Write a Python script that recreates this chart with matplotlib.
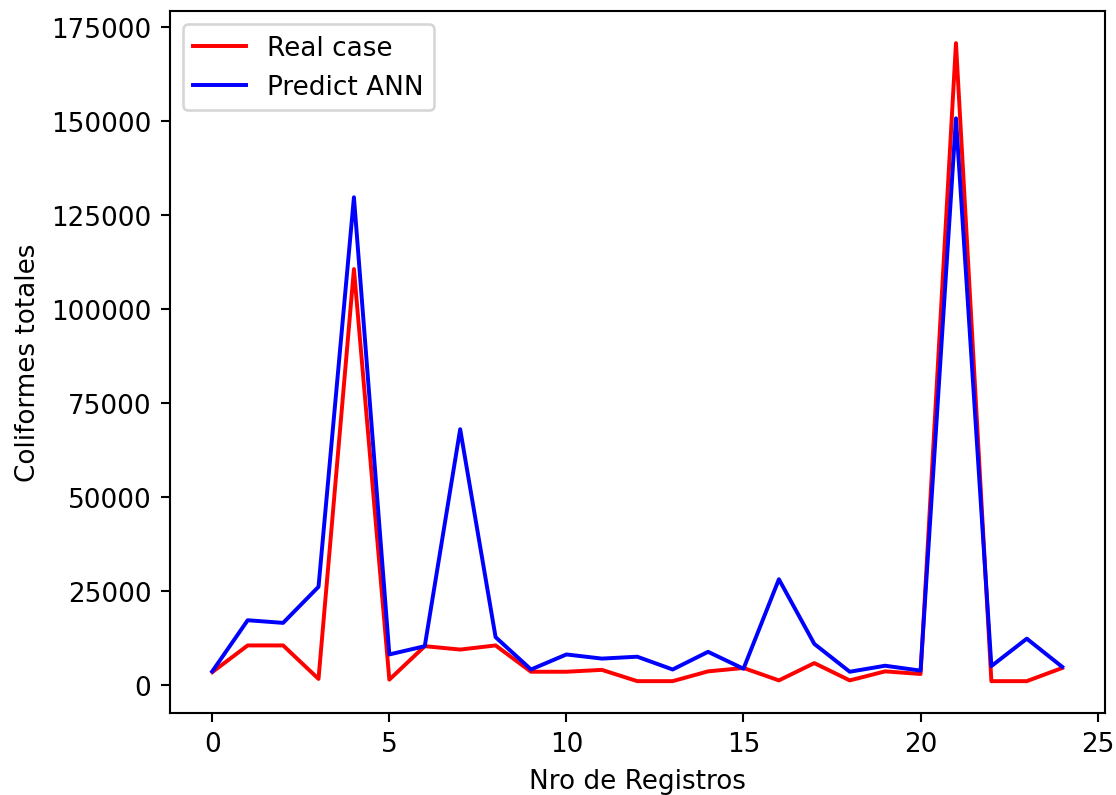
import numpy as np
import matplotlib.pyplot as plt

registros = list(range(25))
real_case = [3500, 10600, 10600, 1700, 110700, 1500, 10400, 9500, 10600, 3600,
             3600, 4100, 1100, 1100, 3700, 4600, 1300, 5900, 1300, 3700,
             3000, 170800, 1100, 1100, 4600]
predict_ann = [3700, 17300, 16600, 26200, 129800, 8200, 10400, 68100, 12800, 4200,
               8200, 7100, 7600, 4200, 8900, 4400, 28200, 11000, 3600, 5200,
               3900, 150800, 5100, 12400, 4900]

fig = plt.figure(figsize=(5.91, 4.21), dpi=189)
ax = fig.add_axes([0.152, 0.103, 0.837, 0.882])
ax.plot(registros, real_case, color='red', label='Real case')
ax.plot(registros, predict_ann, color='blue', label='Predict ANN')
ax.set_xlabel('Nro de Registros')
ax.set_ylabel('Coliformes totales')
ax.legend(loc='upper left')
plt.savefig('out.png', dpi=189)
